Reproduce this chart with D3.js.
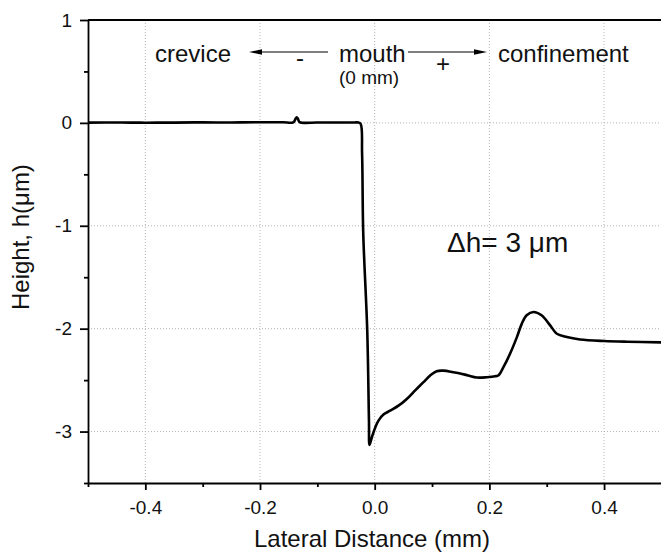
<!DOCTYPE html>
<html>
<head>
<meta charset="utf-8">
<script src="https://cdn.jsdelivr.net/npm/d3@7"></script>
<style>
  html, body { margin: 0; padding: 0; background: #fff; }
  svg { display: block; font-family: "Liberation Sans", Arial, sans-serif; }
</style>
</head>
<body>
<svg id="chart" width="661" height="552"></svg>
<script>
// ---- data ----
const distance = [-0.5, -0.45, -0.4, -0.35, -0.3, -0.25, -0.2, -0.16, -0.142, -0.138, -0.136, -0.134, -0.131,
  -0.1, -0.06, -0.035, -0.029, -0.0245, -0.022, -0.020, -0.013, -0.010, -0.009, -0.005, 0.001, 0.0066,
  0.0153, 0.027, 0.0415, 0.056, 0.0706, 0.085, 0.0967, 0.108, 0.12, 0.137, 0.149, 0.163, 0.178, 0.1956,
  0.21, 0.216, 0.2245, 0.236, 0.248, 0.2566, 0.265, 0.277, 0.291, 0.306, 0.3176, 0.335, 0.358, 0.4, 0.44, 0.5];
const height = [0.003, 0.004, 0.002, 0.003, 0.005, 0.004, 0.006, 0.006, 0.006, 0.04, 0.055, 0.04, 0.008,
  0.004, 0.004, 0.004, 0.004, -0.01, -0.3, -1.07, -2.02, -2.9, -3.13, -3.056, -2.96, -2.894,
  -2.835, -2.797, -2.748, -2.683, -2.60, -2.52, -2.455, -2.413, -2.408, -2.423, -2.435, -2.455, -2.475, -2.472,
  -2.463, -2.452, -2.374, -2.244, -2.082, -1.951, -1.870, -1.838, -1.870, -1.968, -2.049, -2.082, -2.105, -2.12, -2.127, -2.133];
const xMajorTicks = [-0.4, -0.2, 0.0, 0.2, 0.4];
const xMinorTicks = [-0.5, -0.3, -0.1, 0.1, 0.3, 0.5];
const yMajorTicks = [1, 0, -1, -2, -3];
const yMinorTicks = [0.5, -0.5, -1.5, -2.5, -3.5];
const xGrid = [-0.4, -0.2, 0.0, 0.2, 0.4];
const yGrid = [0, -1, -2, -3];

// ---- layout ----
const svg = d3.select("#chart");
const pLeft = 88, pTop = 20, pRight = 661.4, pBottom = 483;
const x = d3.scaleLinear().domain([-0.5, 0.5]).range([pLeft, pRight]);
const y = d3.scaleLinear().domain([-3.5, 1]).range([pBottom, pTop]);

// grid
const grid = svg.append("g").attr("stroke", "#b4b4b4").attr("stroke-width", 1).attr("stroke-dasharray", "1,2");
grid.selectAll("line.vx").data(xGrid).join("line")
  .attr("x1", d => x(d)).attr("x2", d => x(d)).attr("y1", pTop).attr("y2", pBottom);
grid.selectAll("line.hy").data(yGrid).join("line")
  .attr("x1", pLeft).attr("x2", pRight).attr("y1", d => y(d)).attr("y2", d => y(d));

// curve
const pts = distance.map((d, i) => [d, height[i]]);
svg.append("path")
  .datum(pts)
  .attr("fill", "none")
  .attr("stroke", "#000")
  .attr("stroke-width", 2.6)
  .attr("stroke-linejoin", "round")
  .attr("d", d3.line().x(d => x(d[0])).y(d => y(d[1])).curve(d3.curveCatmullRom.alpha(0.5)));

// frame (top)
svg.append("line").attr("x1", pLeft).attr("x2", pRight).attr("y1", pTop).attr("y2", pTop)
  .attr("stroke", "#000").attr("stroke-width", 1.8);

// axes
const fs = "19px";
const xAxis = svg.append("g").attr("transform", `translate(0,${pBottom})`)
  .call(d3.axisBottom(x).tickValues(xMajorTicks).tickSize(7).tickSizeOuter(0).tickPadding(10.5)
    .tickFormat(d => d.toFixed(1)));
const xMinor = svg.append("g").attr("transform", `translate(0,${pBottom})`)
  .call(d3.axisBottom(x).tickValues(xMinorTicks).tickSize(4).tickSizeOuter(0).tickFormat(""));
xMinor.select(".domain").remove();
const yAxis = svg.append("g").attr("transform", `translate(${pLeft},0)`)
  .call(d3.axisLeft(y).tickValues(yMajorTicks).tickSize(8).tickSizeOuter(0).tickPadding(8)
    .tickFormat(d => String(d)));
const yMinor = svg.append("g").attr("transform", `translate(${pLeft},0)`)
  .call(d3.axisLeft(y).tickValues(yMinorTicks).tickSize(4).tickSizeOuter(0).tickFormat(""));
yMinor.select(".domain").remove();
[xAxis, yAxis, xMinor, yMinor].forEach(g => {
  g.selectAll("path, line").attr("stroke", "#000").attr("stroke-width", 1.8);
  g.selectAll("text").attr("font-size", fs).attr("font-family", "Liberation Sans, Arial, sans-serif").attr("fill", "#111");
});

// axis titles
svg.append("text").attr("x", 372).attr("y", 547).attr("text-anchor", "middle")
  .attr("font-size", "24px").attr("fill", "#111").text("Lateral Distance (mm)");
svg.append("text").attr("transform", "translate(29,310) rotate(-90)").attr("text-anchor", "start")
  .attr("font-size", "24px").attr("fill", "#111").text("Height, h(μm)");

// annotations
const ann = svg.append("g").attr("fill", "#111").attr("font-size", "24px");
ann.append("text").attr("x", 155).attr("y", 61.7).text("crevice");
ann.append("text").attr("x", 339).attr("y", 61.7).text("mouth");
ann.append("text").attr("x", 339).attr("y", 84).attr("font-size", "19px").text("(0 mm)");
ann.append("text").attr("x", 498).attr("y", 61.7).text("confinement");
ann.append("text").attr("x", 300).attr("y", 66).attr("text-anchor", "middle").text("-");
ann.append("text").attr("x", 443).attr("y", 71.5).attr("text-anchor", "middle").text("+");
ann.append("text").attr("x", 447).attr("y", 251.5).attr("font-size", "28px").text("Δh= 3 μm");

// arrows
const arr = svg.append("g");
arr.append("line").attr("x1", 328).attr("x2", 258).attr("y1", 52).attr("y2", 52).attr("stroke", "#000").attr("stroke-width", 1);
arr.append("path").attr("d", "M249,52 L262,49.3 L262,54.7 Z").attr("fill", "#000");
arr.append("line").attr("x1", 408).attr("x2", 478).attr("y1", 52).attr("y2", 52).attr("stroke", "#000").attr("stroke-width", 1);
arr.append("path").attr("d", "M487,52 L474,49.3 L474,54.7 Z").attr("fill", "#000");
</script>
</body>
</html>
